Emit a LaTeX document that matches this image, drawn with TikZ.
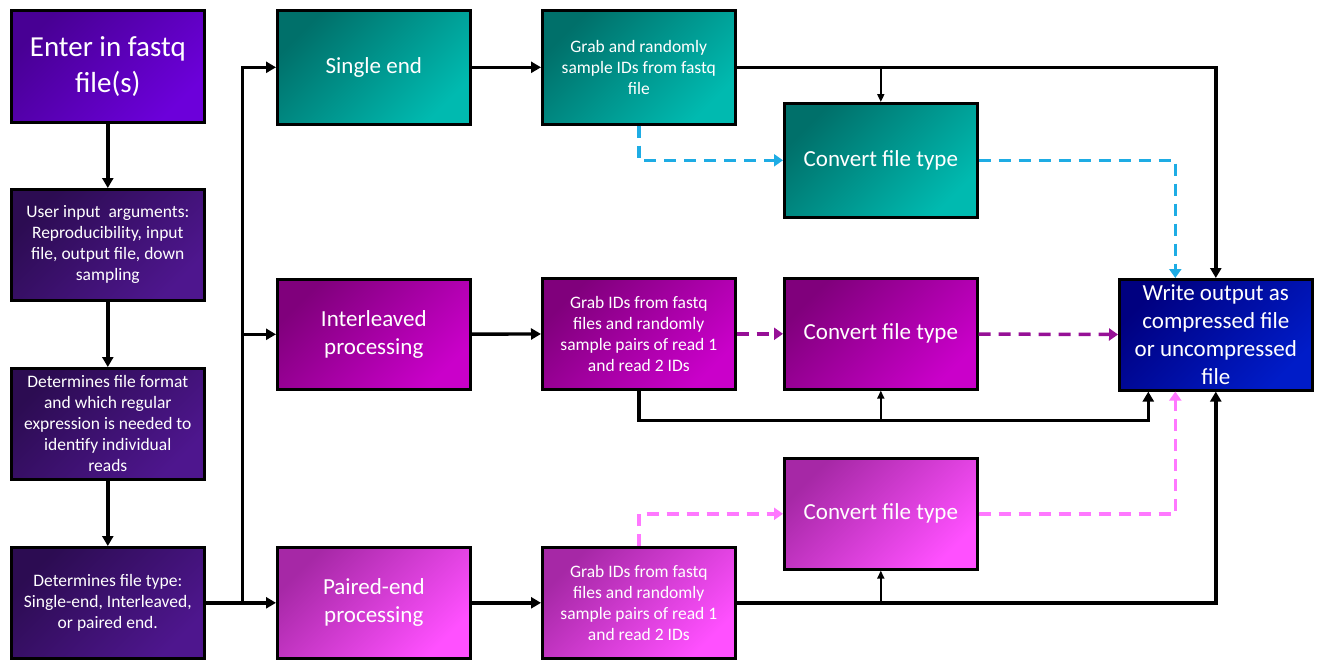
\documentclass[tikz,border=0pt]{standalone}
\usepackage{fontspec}
\setmainfont{Carlito}
\usetikzlibrary{arrows.meta,calc}
\definecolor{enterA}{RGB}{72,0,148}
\definecolor{enterB}{RGB}{108,0,218}
\definecolor{leftA}{RGB}{44,12,82}
\definecolor{leftB}{RGB}{78,22,142}
\definecolor{tealA}{RGB}{0,112,106}
\definecolor{tealB}{RGB}{0,186,176}
\definecolor{purA}{RGB}{128,0,124}
\definecolor{purB}{RGB}{202,0,202}
\definecolor{pinkA}{RGB}{166,40,166}
\definecolor{pinkB}{RGB}{255,80,255}
\definecolor{outA}{RGB}{0,0,128}
\definecolor{outB}{RGB}{0,28,200}
\definecolor{lblue}{RGB}{30,172,228}
\definecolor{lpurple}{RGB}{150,16,150}
\definecolor{lpink}{RGB}{255,120,255}
\begin{document}
\begin{tikzpicture}[x=1pt,y=-1pt,
  box/.style={draw=black, line width=2.6pt, minimum width=193pt, inner sep=0pt,
    anchor=north west, text=white, align=center},
  grad/.style 2 args={top color=#1, bottom color=#2, shading angle=45},
  fbig/.style={font=\fontsize{29}{36}\selectfont},
  fsmall/.style={font=\fontsize{17.5}{21}\selectfont},
  fmid/.style={font=\fontsize{23}{28}\selectfont},
  conn/.style={line width=3.4pt, -{Triangle[length=10pt,width=11pt]}},
  thinarr/.style={line width=1.8pt, -{Triangle[length=8pt,width=7pt]}},
  dashline/.style={line width=3.5pt, dash pattern=on 12pt off 8pt,
    -{Triangle[length=9pt,width=12pt]}}
]
\useasboundingbox (0,0) rectangle (1318,672);

% left column
\node[box, grad={enterA}{enterB}, fbig, minimum height=112pt] (enter) at (10,9) {Enter in fastq\\file(s)};
\node[box, grad={leftA}{leftB}, fsmall, minimum height=111pt] (user) at (10,188) {User input\ \ arguments:\\Reproducibility, input\\file, output file, down\\sampling};
\node[box, grad={leftA}{leftB}, fsmall, minimum height=111pt] (fmt) at (10,367) {Determines file format\\and which regular\\expression is needed to\\identify individual\\reads};
\node[box, grad={leftA}{leftB}, fsmall, minimum height=111pt] (type) at (10,546) {Determines file type:\\Single-end, Interleaved,\\or paired end.};

% processing column
\node[box, grad={tealA}{tealB}, fmid, minimum height=114pt] (single) at (276,9) {Single end};
\node[box, grad={purA}{purB}, fmid, minimum height=110pt] (inter) at (276,278) {Interleaved\\processing};
\node[box, grad={pinkA}{pinkB}, fmid, minimum height=111pt] (paired) at (276,546) {Paired-end\\processing};

% sampling column
\node[box, grad={tealA}{tealB}, fsmall, minimum height=114pt] (grab1) at (541,9) {Grab and randomly\\sample IDs from fastq\\file};
\node[box, grad={purA}{purB}, fsmall, minimum height=111pt] (grab2) at (541,277) {Grab IDs from fastq\\files and randomly\\sample pairs of read 1\\and read 2 IDs};
\node[box, grad={pinkA}{pinkB}, fsmall, minimum height=111pt] (grab3) at (541,546) {Grab IDs from fastq\\files and randomly\\sample pairs of read 1\\and read 2 IDs};

% convert column
\node[box, grad={tealA}{tealB}, fmid, minimum height=114pt] (conv1) at (783,102) {Convert file type};
\node[box, grad={purA}{purB}, fmid, minimum height=111pt] (conv2) at (783,277) {Convert file type};
\node[box, grad={pinkA}{pinkB}, fmid, minimum height=111pt] (conv3) at (783,457) {Convert file type};

% output
\node[box, grad={outA}{outB}, fmid, minimum height=111pt] (out) at (1118,278) {Write output as\\compressed file\\or uncompressed\\file};

% left chain
\draw[conn] (enter) -- (user);
\draw[conn] (user) -- (fmt);
\draw[conn] (fmt) -- (type);

% split
\coordinate (split) at ($(type.east)+(37,0)$);
\draw[line width=3.4pt] (type.east) -- (split);
\draw[conn] (split) |- (single.west);
\draw[conn] (split) |- (inter.west);
\draw[conn] (split) -- (paired.west);

% single end row
\draw[conn] (single) -- (grab1);
\draw[conn] (grab1.east) -| (out.north);
\draw[thinarr] (conv1.north |- grab1.east) -- (conv1.north);
\draw[dashline, lblue] (grab1.south) |- (conv1.west);
\draw[dashline, lblue] (conv1.east) -| ([xshift=-40.5pt]out.north);

% interleaved row
\draw[conn] (inter) -- (grab2);
\draw[dashline, lpurple] (grab2) -- (conv2);
\draw[dashline, lpurple] (conv2) -- (out);
\coordinate (low2) at ($(grab2.south)+(0,30)$);
\draw[conn] (grab2.south) -- (low2) -| ([xshift=-67.5pt]out.south);
\draw[thinarr] (conv2.south |- low2) -- (conv2.south);

% paired row
\draw[conn] (paired) -- (grab3);
\draw[conn] (grab3.east) -| (out.south);
\draw[thinarr] (conv3.south |- grab3.east) -- (conv3.south);
\draw[dashline, lpink] (grab3.north) |- (conv3.west);
\draw[dashline, lpink] (conv3.east) -| ([xshift=-40.5pt]out.south);
\end{tikzpicture}
\end{document}
